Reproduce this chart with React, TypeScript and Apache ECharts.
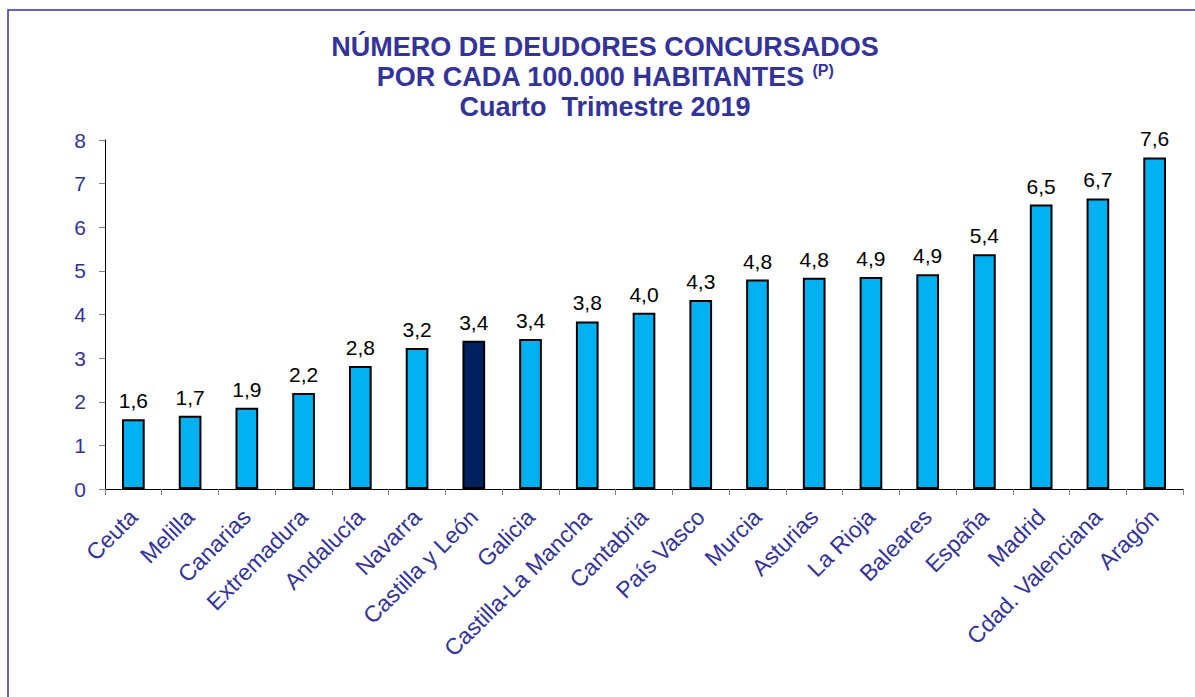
import React, { useEffect, useRef } from "react";
import * as echarts from "echarts";

const categories = [
  "Ceuta", "Melilla", "Canarias", "Extremadura", "Andalucía", "Navarra",
  "Castilla y León", "Galicia", "Castilla-La Mancha", "Cantabria", "País Vasco",
  "Murcia", "Asturias", "La Rioja", "Baleares", "España", "Madrid",
  "Cdad. Valenciana", "Aragón",
];
const values = [
  1.6, 1.68, 1.86, 2.2, 2.82, 3.23, 3.4, 3.44, 3.84, 4.04, 4.33,
  4.8, 4.84, 4.86, 4.92, 5.38, 6.52, 6.66, 7.6,
];
const labels = [
  "1,6", "1,7", "1,9", "2,2", "2,8", "3,2", "3,4", "3,4", "3,8", "4,0", "4,3",
  "4,8", "4,8", "4,9", "4,9", "5,4", "6,5", "6,7", "7,6",
];
const highlight = "Castilla y León";
const yTicks = [0, 1, 2, 3, 4, 5, 6, 7, 8];

export default function App() {
  const ref = useRef<HTMLDivElement>(null);
  useEffect(() => {
    if (!ref.current) return;
    const chart = echarts.init(ref.current, null, { renderer: "svg" });
    const font = "'Liberation Sans', Arial, sans-serif";
    const titleColor = "#333399";
    chart.setOption({
      animation: false,
      backgroundColor: "#ffffff",
      textStyle: { fontFamily: font },
      title: {
        text: "NÚMERO DE DEUDORES CONCURSADOS\nPOR CADA 100.000 HABITANTES {sup|(P)}\nCuarto  Trimestre 2019",
        left: 600,
        top: 27,
        textAlign: "center",
        textStyle: {
          fontFamily: font,
          fontSize: 27,
          fontWeight: "bold",
          color: titleColor,
          lineHeight: 30,
          rich: {
            sup: {
              fontSize: 16,
              fontWeight: "bold",
              color: titleColor,
              fontFamily: font,
              verticalAlign: "top",
              padding: [0, 0, 12, 0],
            },
          },
        },
      },
      graphic: [
        {
          type: "rect",
          shape: { x: 8, y: 10, width: 1200, height: 700 },
          style: { fill: "none", stroke: "#3333aa", lineWidth: 1.5 },
          silent: true,
        },
      ],
      grid: { left: 105, right: 12, top: 140, bottom: 208, containLabel: false },
      xAxis: {
        type: "category",
        data: categories,
        axisLine: { lineStyle: { color: "#000000", width: 1 } },
        axisTick: { show: true, alignWithLabel: false, length: 6, lineStyle: { color: "#808080" } },
        axisLabel: {
          rotate: 45,
          interval: 0,
          color: titleColor,
          fontSize: 23,
          fontFamily: font,
          margin: 24,
        },
      },
      yAxis: {
        type: "value",
        min: 0,
        max: 8,
        interval: 1,
        splitLine: { show: false },
        axisLine: { show: true, lineStyle: { color: "#000000", width: 1 } },
        axisTick: { show: true, length: 6, lineStyle: { color: "#808080" } },
        axisLabel: {
          color: titleColor,
          fontSize: 21,
          fontFamily: font,
          margin: 19,
          formatter: (v: number) => (yTicks.includes(v) ? String(v) : ""),
        },
      },
      series: [
        {
          type: "bar",
          barWidth: "40%",
          data: values.map((v, i) => ({
            value: v,
            itemStyle: {
              color: categories[i] === highlight ? "#002060" : "#00B0F0",
              borderColor: "#000000",
              borderWidth: 2,
            },
          })),
          label: {
            show: true,
            position: "top",
            distance: 8,
            color: "#000000",
            fontSize: 21,
            fontFamily: font,
            formatter: (p: any) => labels[p.dataIndex],
          },
        },
      ],
    });
    return () => chart.dispose();
  }, []);
  return (
    <div
      ref={ref}
      style={{ position: "absolute", left: 0, top: 0, width: 1195, height: 697 }}
    />
  );
}
